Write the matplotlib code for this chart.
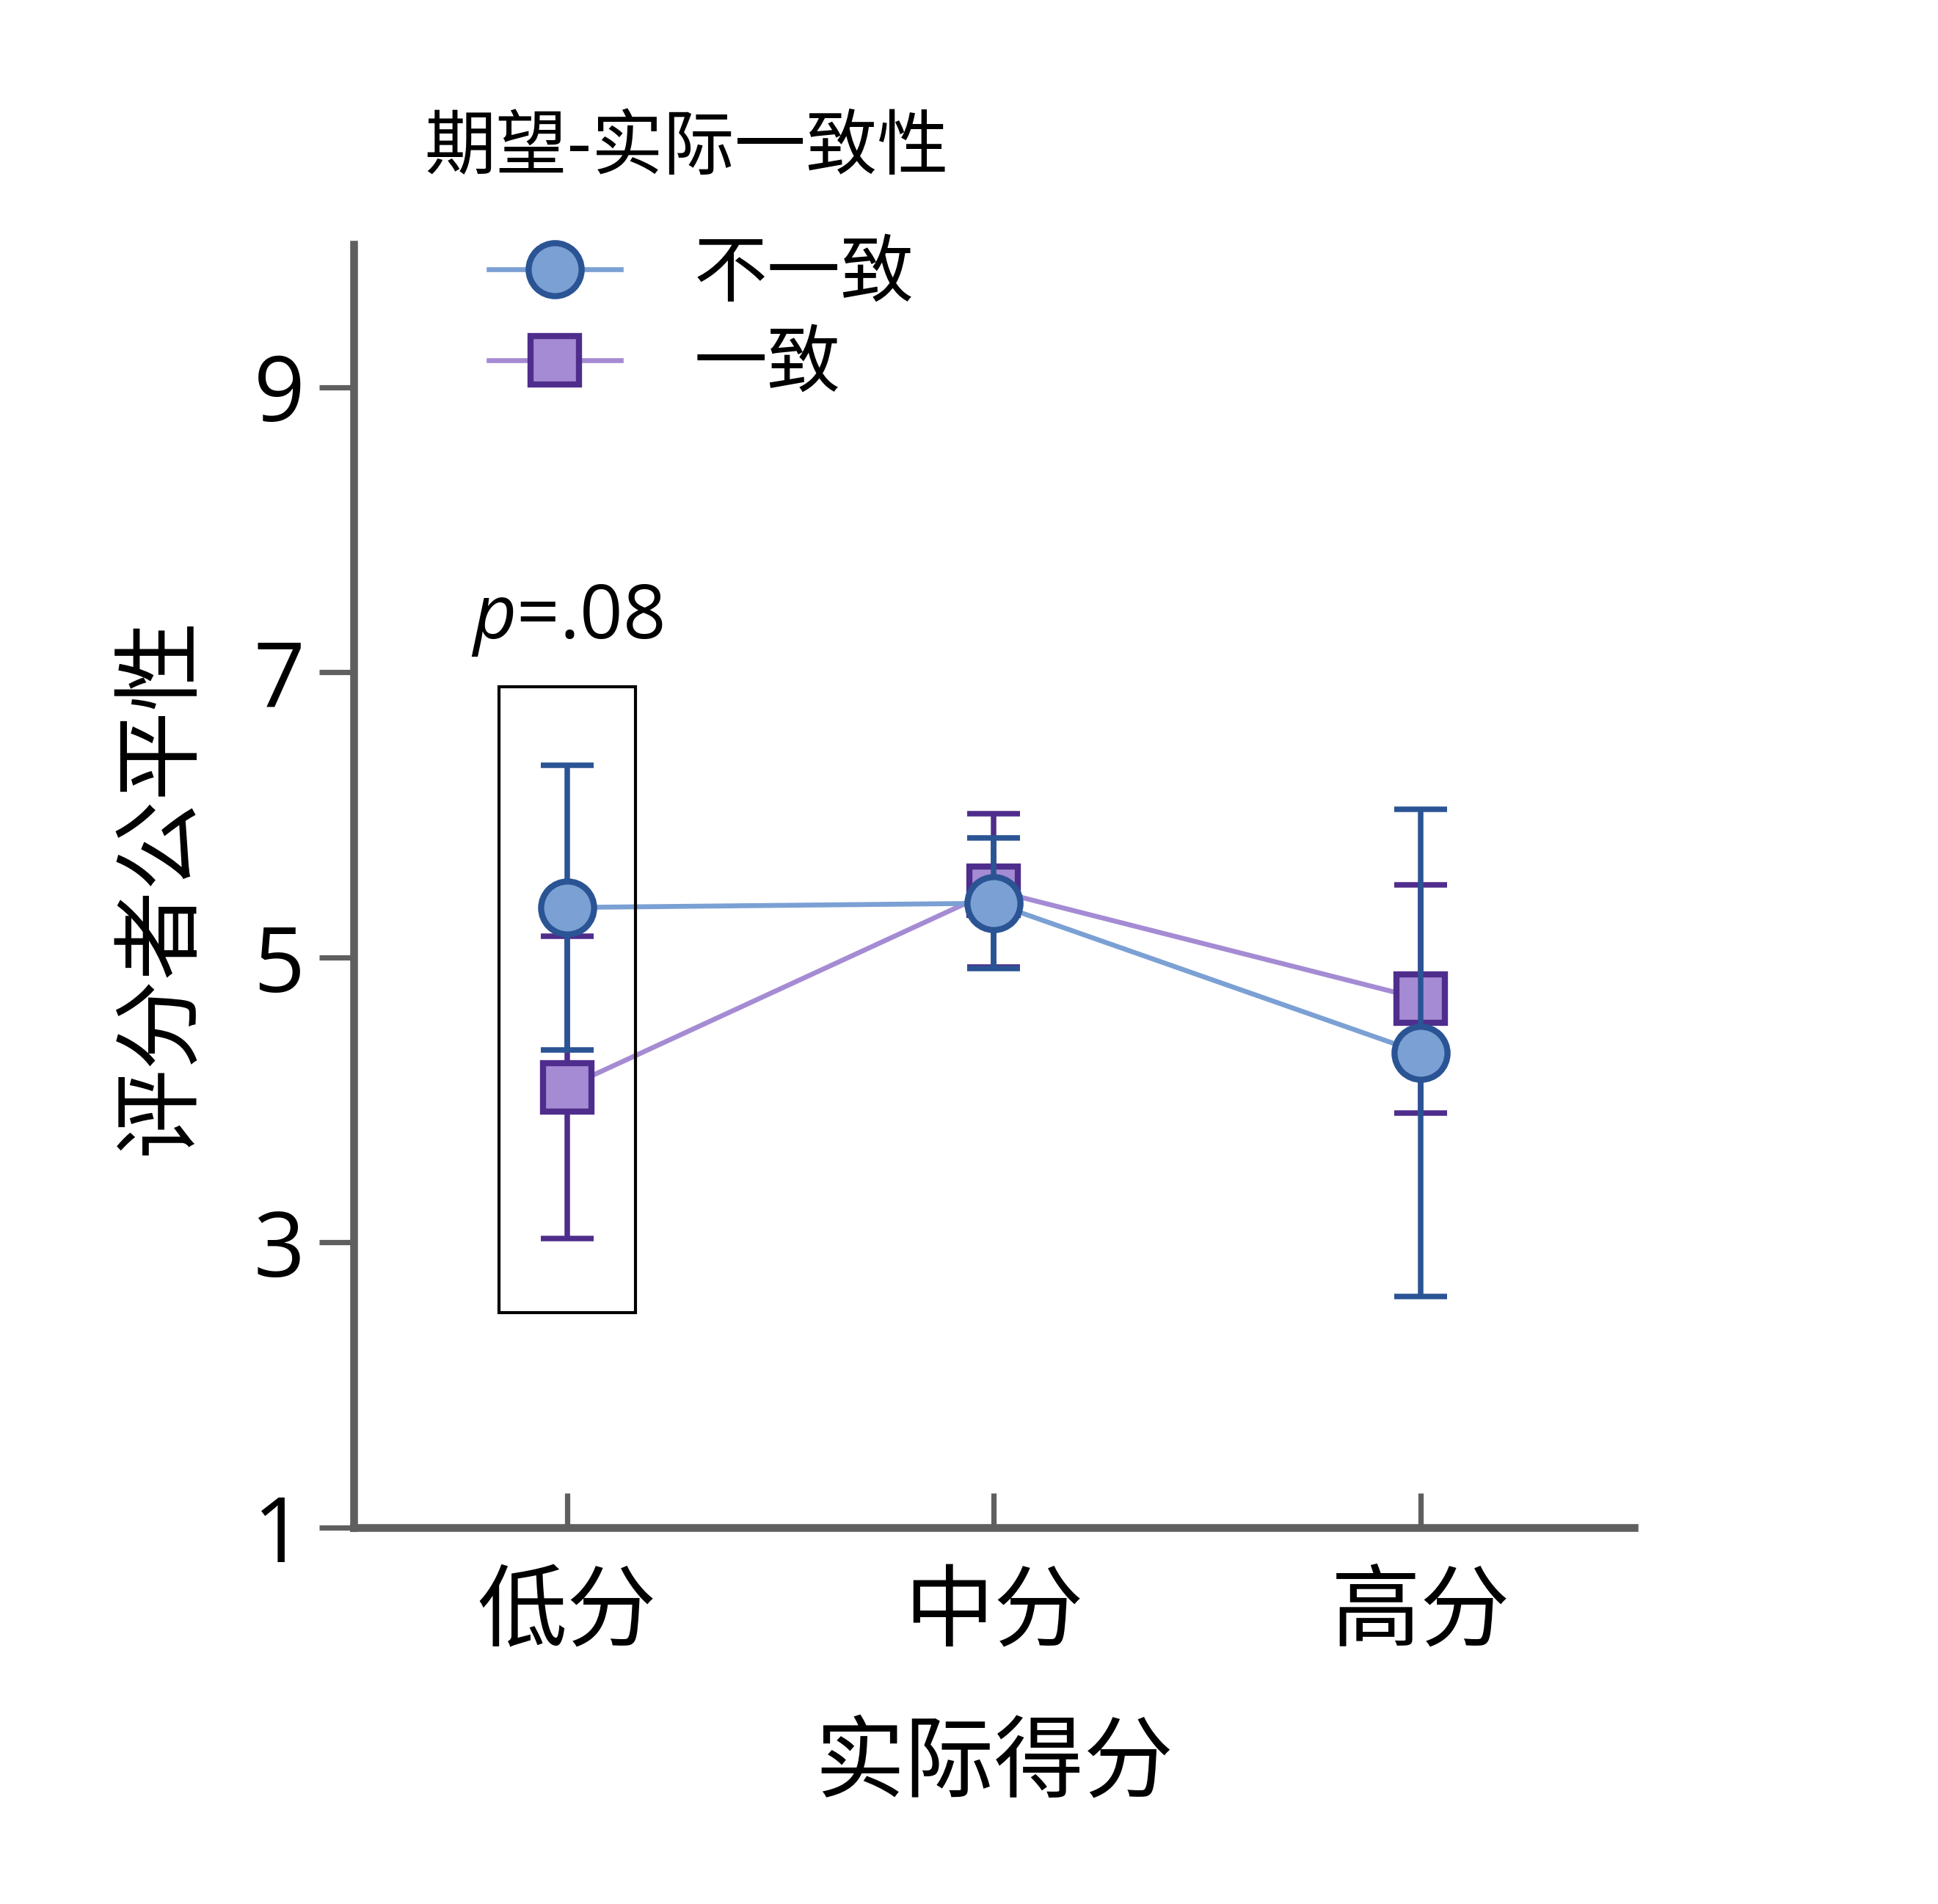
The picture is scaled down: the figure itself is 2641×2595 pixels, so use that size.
import matplotlib
matplotlib.use("Agg")
import matplotlib.pyplot as plt
from matplotlib.patches import Rectangle

# data
categories = ["低分", "中分", "高分"]
incon_mean = [5.35, 5.38, 4.33]
incon_err = [1.00, 0.46, 1.71]
con_mean = [4.09, 5.47, 4.71]
con_err = [1.06, 0.54, 0.80]
yticks = [1, 3, 5, 7, 9]

plt.rcParams["font.family"] = ["Noto Sans CJK SC", "DejaVu Sans"]
plt.rcParams["mathtext.fontset"] = "custom"
plt.rcParams["mathtext.it"] = "Open Sans:italic"
plt.rcParams["mathtext.rm"] = "Open Sans"

blue_fill = "#7ba0d4"
blue_edge = "#2a5494"
purp_fill = "#a58bd3"
purp_edge = "#4f2d8c"
axis_grey = "#5f5f5f"

fig = plt.figure(figsize=(13.205, 12.975), dpi=200)
ax = fig.add_axes([0.1825, 0.1977, 0.6607, 0.6738])
x = list(range(len(categories)))

# consistent (squares) underneath
ax.errorbar(x, con_mean, yerr=con_err, fmt="none", ecolor=purp_edge,
            elinewidth=2.7, capsize=13, capthick=2.7, zorder=3)
l_con, = ax.plot(x, con_mean, color=purp_fill, lw=2.4, marker="s", ms=24,
                 mfc=purp_fill, mec=purp_edge, mew=3.0, zorder=4, label="一致")
# inconsistent (circles) on top
ax.errorbar(x, incon_mean, yerr=incon_err, fmt="none", ecolor=blue_edge,
            elinewidth=2.7, capsize=13, capthick=2.7, zorder=5)
l_incon, = ax.plot(x, incon_mean, color=blue_fill, lw=2.4, marker="o", ms=26,
                   mfc=blue_fill, mec=blue_edge, mew=3.0, zorder=6, label="不一致")

# highlight box for the low-score group
ax.add_patch(Rectangle((-0.16, 2.51), 0.32, 4.39, fill=False, ec="black",
                       lw=1.5, zorder=7))
ax.text(0, 7.24, "$\\mathit{p}$=.08", ha="center", va="baseline", fontsize=37,
        family="Open Sans")

ax.set_xlim(-0.5, 2.5)
ax.set_ylim(1, 10)
ax.set_xticks(x)
ax.set_xticklabels(categories, fontsize=44)
ax.set_yticks(yticks)
ax.set_yticklabels([str(v) for v in yticks], fontsize=44, family="Open Sans")

for s in ["top", "right"]:
    ax.spines[s].set_visible(False)
for s in ["left", "bottom"]:
    ax.spines[s].set_linewidth(3.8)
    ax.spines[s].set_color(axis_grey)
ax.tick_params(axis="x", direction="in", length=17, width=2.6, color=axis_grey, pad=19.5)
ax.tick_params(axis="y", direction="out", length=17, width=2.6, color=axis_grey, pad=7)

ax.set_xlabel("实际得分", fontsize=44)
ax.set_ylabel("评分者公平性", fontsize=44)
ax.xaxis.set_label_coords(0.5, -0.149)
ax.yaxis.set_label_coords(-0.115, 0.5)

fig.text(0.219, 0.922, "期望-实际一致性", fontsize=35, ha="left", va="center")
ax.legend(handles=[l_incon, l_con], loc="upper left", bbox_to_anchor=(0.252, 0.876),
          bbox_transform=fig.transFigure, frameon=False, fontsize=36,
          handlelength=1.8, handletextpad=1.0, labelspacing=0.2,
          borderpad=0, borderaxespad=0)

fig.savefig("out.png", dpi=200)
